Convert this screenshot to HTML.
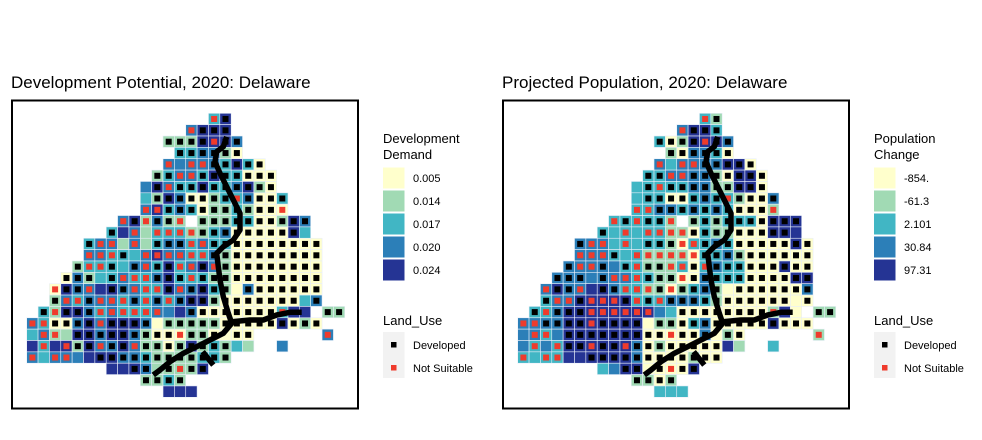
<!DOCTYPE html>
<html><head><meta charset="utf-8"><style>
body{margin:0;background:#fff;width:982px;height:440px;overflow:hidden;font-family:"Liberation Sans",sans-serif}
svg{display:block}
</style></head><body>
<svg id="chart" width="982" height="440" xmlns="http://www.w3.org/2000/svg"></svg>
<script>
const palette=["#ffffcc","#a1dab4","#41b6c4","#2c7fb8","#253494"];
const demandLabels=["0.005","0.014","0.017","0.020","0.024"];
const popLabels=["-854.","-61.3","2.101","30.84","97.31"];
const landUseLabels=["Developed","Not Suitable"];
const markerRows=[
"................ND..........",
"..............NDDD..........",
"............DDDDNDD.........",
".............DDDDDD.........",
"............NoNNDDDDD.......",
"...........DDNNDDDDDDD......",
"..........oDNDDDDDDDDD......",
"..........oDDDDDDDNDDDD.....",
"..........NNDDDDDDDDDDN.....",
"........NDNDDN.DDDDDDDDDD...",
".......DoNoNNNNDDDDDDDDDo...",
".....DNNoNoDDDNNDDDDDDDDDD..",
".....NNNDoNNNNNNDDDDDDDDDD..",
"....DNNDoDNDDNNDNDDDDDDDDD..",
"...DDDoDNNNDDDNDDDDDDDDDDD..",
"..NDDNoDDNNNDNDDDDoDDDDDDD..",
"..DNNDNNNDNDNDDDDDDDDDDDoD..",
".DNDDDNNNNNNooDDDDDDDDNoo.DD",
"NNDDDDNDDDDoDDDDDDDDDDDDDD..",
"oNNoDDDDDDDDDNDDDoDD......N.",
"oNoNDDNDDNDDDDDDDDoo..o.....",
"NoNNooDDDDDDDDDDDD..........",
".......ooDDoDNDD............",
"..........DDDD..............",
"............ooo............."];
const demandRows=[
"................35..........",
"..............4555..........",
"............2225554.........",
".............334421.........",
"............444443531.......",
"...........23443533111......",
"..........454335334521......",
"..........3254112334113.....",
"..........4534312232111.....",
"........452422.2223311254...",
".......354233322341111153...",
".....344242344343311111111..",
".....443334544334211111111..",
"....2333344353454211111111..",
"...14233433453332211111111..",
"..154455443354453214111111..",
"..243444343434552111111134..",
".325543433344541111111355.22",
"43114545554122222111115121..",
"34225545542111221111......4.",
"53552544542212523232..4.....",
"434445554432222332..........",
".......555422225............",
"..........2232..............",
"............555............."];
const popRows=[
"................32..........",
"..............4553..........",
"............3125554.........",
".............214431.........",
"............434444551.......",
"...........33444421551......",
"..........333334422551......",
"..........3331134332114.....",
"..........3344343431112.....",
"........333332.2323331555...",
".......333333221322111555...",
".....444333332133431111151..",
".....444333222213342111111..",
"....4444433222313433111511..",
"...44444443322114333111155..",
"..454455433221234211111114..",
"..344555553334443211111111..",
".334555555554311111111251.22",
"44445555555122134111115111..",
"44345555555111114121......2.",
"43435555554121111152..3.....",
"333355555541111211..........",
".......345511115............",
"..........2212..............",
"............333............."];
const NS="http://www.w3.org/2000/svg";
const svg=document.getElementById('chart');
function mk(tag,attrs,parent){const e=document.createElementNS(NS,tag);for(const k in attrs)e.setAttribute(k,attrs[k]);(parent||svg).appendChild(e);return e;}
const cell=11.36;
function xScale(ox,c){return ox+26.7+c*cell;}
function yScale(r){return 113.3+r*cell;}
const road="M226.7,136.7 L223.3,146.7 L216.7,151.7 L215,161.7 L220,173.3 L226.7,186.7 L233.3,200 L240,213.3 L240,230 L233.3,240 L223.3,246.7 L216.7,253.3 L218.3,266.7 L220,280 L223.3,296.7 L228.3,313.3 L231.7,323.3 L223.3,333.3 L210,340 L196.7,346.7 L183.3,353.3 L170,361.7 L160,370 L153.3,375 M231.7,321.7 L250,320 L263.3,320 L276.7,315 L290,312.3 L301.7,312.3 M202.7,351.7 L213.3,365";
function drawPanel(ox,title,fillRows,legTitle,legLabels,pname){
  const g=mk('g',{});
  
  
  const t=mk('text',{x:ox+11,y:88,'font-size':'17'},g);t.textContent=title;
  
  const fr=mk('rect',{x:ox+12,y:100.5,width:346,height:308,fill:'#fff',stroke:'#000','stroke-width':2},g);
  
  for(let r=0;r<fillRows.length;r++){for(let c=0;c<fillRows[r].length;c++){
    const ch=fillRows[r][c];if(ch==='.')continue;
    const rc=mk('rect',{x:xScale(ox,c),y:yScale(r),width:cell,height:cell,fill:palette[+ch-1],stroke:'#e8eef8','stroke-width':0.6},g);
    
    const m=markerRows[r][c];
    if(m==='D'||m==='N'){const s=6;
      const mm=mk('rect',{x:xScale(ox,c)+cell/2-s/2,y:yScale(r)+cell/2-s/2,width:s,height:s,fill:m==='D'?'#000':'#ef3b2c'},g);
      }
  }}
  const rd=mk('path',{d:road,transform:'translate('+ox+',0)',fill:'none',stroke:'#000','stroke-width':5.5,'stroke-linecap':'butt','stroke-linejoin':'round'},g);
  
  const lx=ox+383;
  const parts=legTitle.split(' ');
  parts.forEach((p,i)=>{const tt=mk('text',{x:lx,y:143+i*16,'font-size':'13'},g);tt.textContent=p;
    });
  legLabels.forEach((l,i)=>{
    const sw=mk('rect',{x:lx,y:167.5+i*23,width:21.5,height:21,fill:palette[i]},g);
    
    const lt=mk('text',{x:lx+30,y:182+i*23,'font-size':'11'},g);lt.textContent=l;
    
  });
  const lu=mk('text',{x:lx,y:325,'font-size':'13'},g);lu.textContent='Land_Use';
  
  const bg=mk('rect',{x:lx,y:332,width:21.5,height:46,fill:'#f2f2f2'},g);
  
  landUseLabels.forEach((l,i)=>{
    const k=mk('rect',{x:lx+8,y:342+i*23,width:5.5,height:5.5,fill:i===0?'#000':'#ef3b2c'},g);
    
    const lt=mk('text',{x:lx+30,y:349+i*23,'font-size':'11'},g);lt.textContent=l;
    
  });
}
drawPanel(0,"Development Potential, 2020: Delaware",demandRows,"Development Demand",demandLabels,'development');
drawPanel(491,"Projected Population, 2020: Delaware",popRows,"Population Change",popLabels,'population');
</script>
</body></html>
